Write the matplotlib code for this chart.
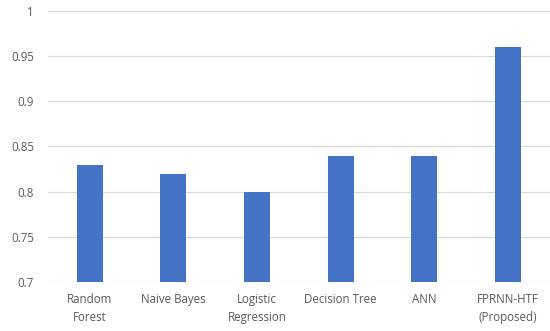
import matplotlib.pyplot as plt
import numpy as np

# model accuracy values
models = ['Random\nForest', 'Naive Bayes', 'Logistic\nRegression', 'Decision Tree', 'ANN', 'FPRNN-HTF\n(Proposed)']
accuracy = [0.83, 0.82, 0.80, 0.84, 0.84, 0.96]
yticks = [0.7, 0.75, 0.8, 0.85, 0.9, 0.95, 1.0]
ytick_labels = ['0.7', '0.75', '0.8', '0.85', '0.9', '0.95', '1']

plt.rcParams['font.family'] = ['Open Sans', 'DejaVu Sans']

fig = plt.figure(figsize=(5.5, 3.31), dpi=100)
ax = fig.add_axes([0.087, 0.148, 0.913, 0.819])

x = np.arange(len(models))
ax.bar(x, accuracy, width=0.31, color='#4472C4', zorder=3)

ax.set_xlim(-0.5, len(models) - 0.5)
ax.set_ylim(0.7, 1.0)
ax.set_yticks(yticks)
ax.set_yticklabels(ytick_labels)
ax.set_xticks(x)
ax.set_xticklabels(models, linespacing=1.45)

ax.grid(axis='y', color='#D9D9D9', linewidth=0.8, zorder=0)
for s in ax.spines.values():
    s.set_visible(False)
ax.tick_params(axis='both', length=0, labelsize=8.3, labelcolor='#595959')
ax.tick_params(axis='x', pad=8)
ax.tick_params(axis='y', pad=10)

fig.savefig('out.png', dpi=100)
